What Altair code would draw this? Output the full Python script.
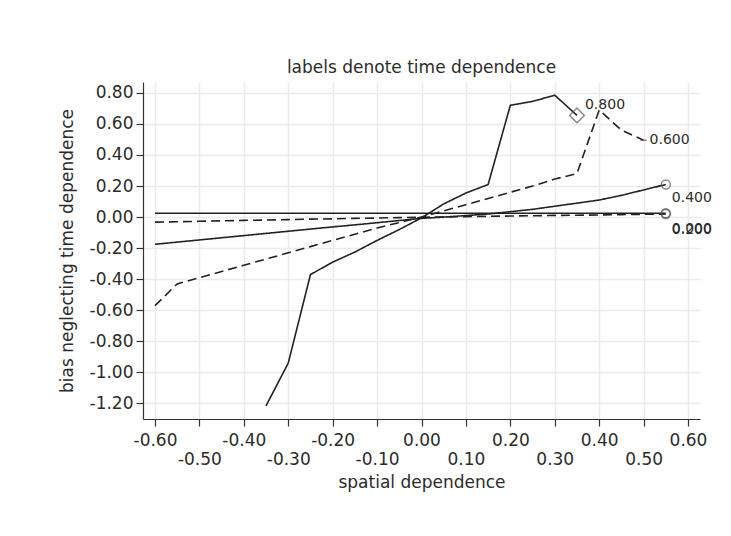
import altair as alt
import pandas as pd

# ---- data ----
x_full = [-0.60, -0.55, -0.50, -0.45, -0.40, -0.35, -0.30, -0.25, -0.20, -0.15, -0.10, -0.05,
          0.00, 0.05, 0.10, 0.15, 0.20, 0.25, 0.30, 0.35, 0.40, 0.45, 0.50, 0.55]

bias_000 = [0.025] * 24
bias_200 = [-0.032, -0.030, -0.027, -0.024, -0.021, -0.019, -0.016, -0.013, -0.011, -0.008,
            -0.006, -0.003, -0.001, 0.001, 0.003, 0.005, 0.007, 0.009, 0.011, 0.012,
            0.014, 0.016, 0.018, 0.020]
bias_400 = [-0.175, -0.161, -0.147, -0.133, -0.119, -0.105, -0.091, -0.077, -0.063, -0.050,
            -0.036, -0.022, -0.008, 0.000, 0.010, 0.020, 0.035, 0.050, 0.070, 0.090,
            0.110, 0.140, 0.175, 0.210]

x_600 = [-0.60, -0.55, -0.50, -0.45, -0.40, -0.35, -0.30, -0.25, -0.20, -0.15, -0.10, -0.05,
         0.00, 0.05, 0.10, 0.15, 0.20, 0.25, 0.30, 0.35, 0.40, 0.45, 0.50]
bias_600 = [-0.57, -0.43, -0.39, -0.35, -0.31, -0.27, -0.23, -0.19, -0.15, -0.11, -0.07, -0.035,
            0.00, 0.04, 0.08, 0.12, 0.16, 0.20, 0.245, 0.28, 0.69, 0.56, 0.495]

x_800 = [-0.35, -0.30, -0.25, -0.20, -0.15, -0.10, -0.05, 0.00, 0.05, 0.10, 0.15, 0.20, 0.25, 0.30, 0.35]
bias_800 = [-1.215, -0.94, -0.37, -0.29, -0.225, -0.15, -0.08, -0.005, 0.085, 0.155, 0.21,
            0.72, 0.745, 0.785, 0.655]

series_labels = ["0.000", "0.200", "0.400", "0.600", "0.800"]
series_x = [x_full, x_full, x_full, x_600, x_800]
series_y = [bias_000, bias_200, bias_400, bias_600, bias_800]

x_ticks = [round(-0.60 + 0.05 * i, 2) for i in range(25)]

# ---- tables ----
rows = []
for lab, xs, ys in zip(series_labels, series_x, series_y):
    for i, (xv, yv) in enumerate(zip(xs, ys)):
        rows.append({"series": lab, "x": xv, "y": yv, "order": i})
df = pd.DataFrame(rows)
ends = pd.DataFrame([{"series": lab, "x": xs[-1], "y": ys[-1]}
                     for lab, xs, ys in zip(series_labels, series_x, series_y)])

FONT = "DejaVu Sans"
INK = "#2b2b2b"

xscale = alt.Scale(domain=[-0.627, 0.627], nice=False, zero=False)
yscale = alt.Scale(domain=[-1.30, 0.87], nice=False, zero=False)

x_axis = alt.Axis(
    values=x_ticks,
    title="spatial dependence",
    labelExpr="round(datum.value*20) % 2 != 0 ? '' : replace(format(datum.value, '.2f'), '\u2212', '-')",
    labelPadding={"condition": {"test": "round(datum.value*10) % 2 != 0", "value": 25}, "value": 6},
    tickSize={"condition": {"test": "round(datum.value*20) % 2 == 0", "value": 7}, "value": 4},
    gridOpacity={"condition": {"test": "round(datum.value*20) % 2 == 0", "value": 1}, "value": 0},
    labelOverlap=False,
    labelFlush=False,
    titlePadding=7,
)
y_axis = alt.Axis(
    tickCount=11,
    title="bias neglecting time dependence",
    labelExpr="replace(format(datum.value, '.2f'), '\u2212', '-')",
    tickSize=7,
    labelPadding=3,
    labelOverlap=False,
    labelFlush=False,
    titlePadding=13,
)

dash_scale = alt.Scale(domain=series_labels,
                       range=[[1, 0], [9, 5], [1, 0], [9, 5], [1, 0]])

lines = alt.Chart(df).mark_line(color="#222222", strokeWidth=1.6, clip=True).encode(
    x=alt.X("x:Q", scale=xscale, axis=x_axis),
    y=alt.Y("y:Q", scale=yscale, axis=y_axis),
    detail="series:N",
    order="order:Q",
    strokeDash=alt.StrokeDash("series:N", scale=dash_scale, legend=None),
)

def marker_layer(names, shape, size):
    return alt.Chart(ends).transform_filter(
        alt.FieldOneOfPredicate(field="series", oneOf=names)
    ).mark_point(filled=False, color="#555555", strokeWidth=1.4, shape=shape, size=size).encode(
        x="x:Q", y="y:Q")

markers = (marker_layer(["0.000", "0.200", "0.400"], "circle", 80)
           + marker_layer(["0.600"], "M-1,0L1,0", 40)
           + marker_layer(["0.800"], "diamond", 220))

def label_layer(names, dx, dy):
    return alt.Chart(ends).transform_filter(
        alt.FieldOneOfPredicate(field="series", oneOf=names)
    ).mark_text(align="left", baseline="middle", dx=dx, dy=dy,
                font=FONT, fontSize=14, color=INK).encode(
        x="x:Q", y="y:Q", text="series:N")

labels = (label_layer(["0.800"], 8, -10)
          + label_layer(["0.600"], 6, 0)
          + label_layer(["0.400"], 6, 14)
          + label_layer(["0.200", "0.000"], 6, 16))

chart = alt.layer(lines, markers, labels).properties(
    width=557, height=337,
    title=alt.TitleParams("labels denote time dependence", font=FONT, fontSize=17,
                          fontWeight="normal", color=INK, offset=5),
    autosize=alt.AutoSizeParams(type="none"),
    padding={"left": 135, "top": 74, "right": 23, "bottom": 100},
    background="white",
).configure_view(stroke=None).configure_axis(
    labelFont=FONT, titleFont=FONT, labelFontSize=17, titleFontSize=17,
    labelColor=INK, titleColor=INK, titleFontWeight="normal",
    labelOverlap=False,
    domainColor="#333333", tickColor="#333333", domainWidth=1.2, tickWidth=1.2,
    gridColor="#ebebeb", gridWidth=1.5,
)

chart.save("out.html", embed_options={"renderer": "svg", "actions": False})
